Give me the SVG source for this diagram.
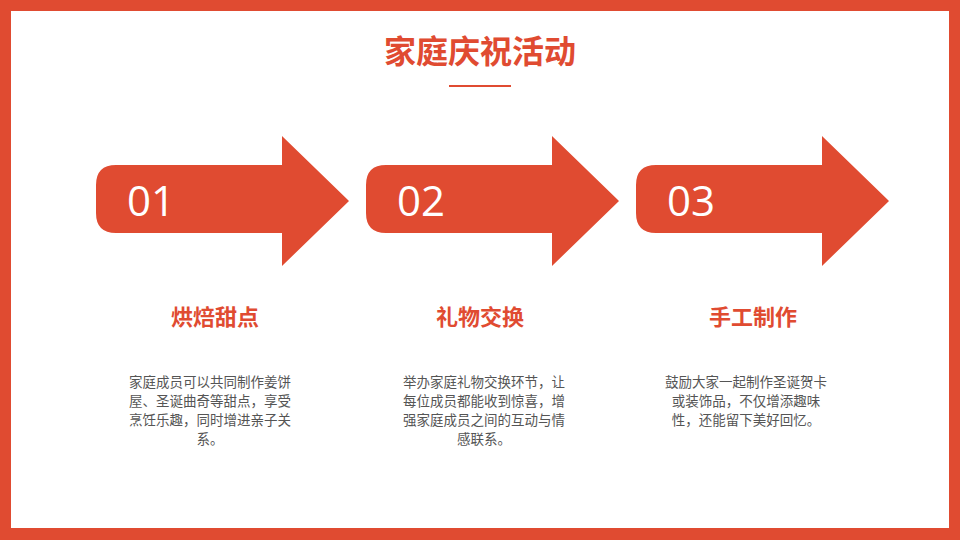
<svg xmlns="http://www.w3.org/2000/svg" width="960" height="540" viewBox="0 0 960 540">
<style>
.t{font-family:"Noto Sans CJK SC","Liberation Sans",sans-serif}
.a{fill:#E04B31}
.n{font-family:"Open Sans","Liberation Sans",sans-serif;font-size:42px;fill:#fff}
.h{font-size:22px;font-weight:bold;fill:#E04B31;text-anchor:middle}
.b{font-size:13.5px;fill:#555;text-anchor:middle}
</style>
<defs>
<path id="arr" d="M116,165 H282 V136 L349,201 L282,266 V233 H116 Q96,233 96,213 V185 Q96,165 116,165 Z"/>
</defs>
<rect x="0" y="0" width="960" height="540" fill="#E04B31"/>
<rect x="11" y="11" width="938" height="517" fill="#fff"/>
<g id="title">
<text class="t" x="480" y="63" font-size="32" font-weight="bold" fill="#E04B31" text-anchor="middle">家庭庆祝活动</text>
<line x1="449" y1="86" x2="511" y2="86" stroke="#E04B31" stroke-width="2"/>
</g>
<g id="step1">
<use href="#arr" class="a"/>
<text class="n" x="127" y="216">01</text>
<text class="t h" x="215" y="325">烘焙甜点</text>
<text class="t b"><tspan x="210" y="387">家庭成员可以共同制作姜饼</tspan><tspan x="210" y="406">屋、圣诞曲奇等甜点，享受</tspan><tspan x="210" y="425">烹饪乐趣，同时增进亲子关</tspan><tspan x="210" y="444">系。</tspan></text>
</g>
<g id="step2">
<use href="#arr" class="a" x="270"/>
<text class="n" x="397" y="216">02</text>
<text class="t h" x="480" y="325">礼物交换</text>
<text class="t b"><tspan x="484" y="387">举办家庭礼物交换环节，让</tspan><tspan x="484" y="406">每位成员都能收到惊喜，增</tspan><tspan x="484" y="425">强家庭成员之间的互动与情</tspan><tspan x="484" y="444">感联系。</tspan></text>
</g>
<g id="step3">
<use href="#arr" class="a" x="540"/>
<text class="n" x="667" y="216">03</text>
<text class="t h" x="753" y="325">手工制作</text>
<text class="t b"><tspan x="746" y="387">鼓励大家一起制作圣诞贺卡</tspan><tspan x="746" y="406">或装饰品，不仅增添趣味</tspan><tspan x="746" y="425">性，还能留下美好回忆。</tspan></text>
</g>
<g id="connectors"/>
</svg>
